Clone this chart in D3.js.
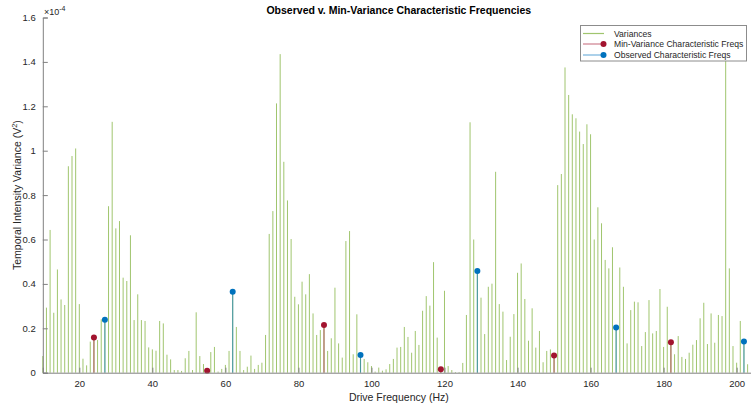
<!DOCTYPE html>
<html>
<head>
<meta charset="utf-8">
<script src="https://cdn.jsdelivr.net/npm/d3@7"></script>
<style>
  html, body { margin: 0; padding: 0; background: #fff; }
  svg { display: block; font-family: "Liberation Sans", Arial, sans-serif; }
</style>
</head>
<body>
<div id="chart"></div>
<script>
// Drive frequencies (Hz), one stem per integer frequency starting at 10 Hz
const freqStart = 10
// Temporal intensity variance, in units of 1e-4 V^2, for 10..203 Hz
const variances = [
  0.075, 0.293, 0.643, 0.27, 0.465, 0.33, 0.305, 0.93, 0.976, 1.01,
  0.309, 0.063, 0.033, 0.14, 0.159, 0.147, 0.24, 0.239, 0.75, 1.13,
  0.65, 0.683, 0.428, 0.413, 0.619, 0.237, 0.353, 0.237, 0.233, 0.114,
  0.105, 0.099, 0.233, 0.222, 0.081, 0.06, 0.012, 0.012, 0.008, 0.065,
  0.098, 0.012, 0.272, 0.075, 0.039, 0.009, 0.093, 0.116, 0.005, 0.017,
  0.035, 0.098, 0.365, 0.206, 0.098, 0.012, 0.027, 0.077, 0.017, 0.035,
  0.045, 0.17, 0.625, 0.728, 1.213, 1.435, 0.95, 0.776, 0.602, 0.342,
  0.308, 0.41, 0.353, 0.444, 0.267, 0.17, 0.192, 0.215, 0.098, 0.155,
  0.383, 0.132, 0.068, 0.593, 0.638, 0.083, 0.263, 0.08, 0.062, 0.047,
  0.03, 0.005, 0.023, 0.009, 0.015, 0.039, 0.062, 0.113, 0.116, 0.206,
  0.161, 0.09, 0.188, 0.125, 0.279, 0.345, 0.302, 0.498, 0.158, 0.015,
  0.369, 0.03, 0.012, 0.003, 0.003, 0.044, 0.26, 1.128, 0.60, 0.458,
  0.338, 0.174, 0.387, 0.401, 0.905, 0.309, 0.275, 0.057, 0.162, 0.264,
  0.45, 0.492, 0.332, 0.144, 0.29, 0.113, 0.188, 0.047, 0.098, 0.105,
  0.077, 0.845, 0.895, 1.375, 1.251, 1.164, 1.146, 1.086, 1.03, 1.119,
  1.074, 0.60, 0.745, 0.673, 0.508, 0.47, 0.565, 0.204, 0.474, 0.387,
  0.132, 0.282, 0.32, 0.317, 0.12, 0.183, 0.327, 0.177, 0.188, 0.377,
  0.116, 0.297, 0.137, 0.083, 0.165, 0.071, 0.062, 0.09, 0.126, 0.147,
  0.245, 0.315, 0.129, 0.267, 0.135, 0.26, 0.255, 1.45, 0.47, 0.12,
  0.045, 0.233, 0.14, 0.038
]

// Min-variance characteristic frequencies
const minVarFreqs = [24, 55, 87, 119, 150, 182]
const minVarValues = [0.159, 0.009, 0.215, 0.015, 0.077, 0.137]

// Observed characteristic frequencies
const obsFreqs = [27, 62, 97, 129, 167, 202]
const obsValues = [0.239, 0.365, 0.08, 0.458, 0.204, 0.14]

const xTicks = [20, 40, 60, 80, 100, 120, 140, 160, 180, 200]
const yTicks = [0, 0.2, 0.4, 0.6, 0.8, 1, 1.2, 1.4, 1.6]

const legendLabels = ['Variances', 'Min-Variance Characteristic Freqs', 'Observed Characteristic Freqs']

const width = 751
const height = 409
const greenColor = '#77AC30'
const redColor = '#A2142F'
const blueColor = '#0072BD'
const axisColor = '#808080'
const textColor = '#262626'

const x = d3.scaleLinear().domain([10, 205]).range([42.8, 754.9])
const y = d3.scaleLinear().domain([0, 1.6]).range([372.7, 17.5])

const svg = d3.select('#chart')
  .append('svg')
  .attr('width', width)
  .attr('height', height)

const varData = variances.map((v, i) => ({ f: freqStart + i, v }))
const minData = minVarFreqs.map((f, i) => ({ f, v: minVarValues[i] }))
const obsData = obsFreqs.map((f, i) => ({ f, v: obsValues[i] }))

// Variance stems
svg.append('g')
  .selectAll('line')
  .data(varData)
  .join('line')
  .attr('x1', d => x(d.f))
  .attr('x2', d => x(d.f))
  .attr('y1', y(0))
  .attr('y2', d => y(d.v))
  .attr('stroke', greenColor)
  .attr('stroke-opacity', 0.7)
  .attr('stroke-width', 1)

// Characteristic frequency stems + markers
function drawStems(data, color) {
  const g = svg.append('g')
  g.selectAll('line')
    .data(data)
    .join('line')
    .attr('x1', d => x(d.f))
    .attr('x2', d => x(d.f))
    .attr('y1', y(0))
    .attr('y2', d => y(d.v))
    .attr('stroke', color)
    .attr('stroke-opacity', 0.55)
    .attr('stroke-width', 1.2)
  g.selectAll('circle')
    .data(data)
    .join('circle')
    .attr('cx', d => x(d.f))
    .attr('cy', d => y(d.v))
    .attr('r', 3)
    .attr('fill', color)
}
drawStems(minData, redColor)
drawStems(obsData, blueColor)

// Axes (MATLAB style: ticks pointing inward, no box)
const xAxis = svg.append('g')
  .attr('transform', `translate(0,${y(0)})`)
  .call(d3.axisBottom(x).tickValues(xTicks).tickSize(-5).tickPadding(8))
const yAxis = svg.append('g')
  .attr('transform', `translate(${x(10)},0)`)
  .call(d3.axisLeft(y).tickValues(yTicks).tickSize(-5).tickPadding(7)
    .tickFormat(d => String(+d.toFixed(1))))

for (const ax of [xAxis, yAxis]) {
  ax.select('.domain').attr('stroke', axisColor).attr('stroke-width', 1)
  ax.selectAll('.tick line').attr('stroke', axisColor)
  ax.selectAll('.tick text')
    .attr('fill', textColor)
    .style('font-size', '9.5px')
    .style('font-family', '"Liberation Sans", Arial, sans-serif')
}

// Exponent label
const expo = svg.append('text')
  .attr('x', 44)
  .attr('y', 14.5)
  .attr('fill', textColor)
  .style('font-size', '9px')
expo.append('tspan').text('\u00d710')
expo.append('tspan').attr('dy', -4).style('font-size', '7px').text('-4')

// Title
svg.append('text')
  .attr('x', (42.8 + 754.9) / 2)
  .attr('y', 14)
  .attr('text-anchor', 'middle')
  .attr('fill', '#000')
  .style('font-size', '10.5px')
  .style('font-weight', 'bold')
  .text('Observed v. Min-Variance Characteristic Frequencies')

// X label
svg.append('text')
  .attr('x', (42.8 + 754.9) / 2)
  .attr('y', 401)
  .attr('text-anchor', 'middle')
  .attr('fill', textColor)
  .style('font-size', '10.5px')
  .text('Drive Frequency (Hz)')

// Y label
const yl = svg.append('text')
  .attr('transform', `translate(20.5,${(17.5 + 372.7) / 2}) rotate(-90)`)
  .attr('text-anchor', 'middle')
  .attr('fill', textColor)
  .style('font-size', '10.5px')
yl.append('tspan').text('Temporal Intensity Variance (V')
yl.append('tspan').attr('dy', -4).style('font-size', '7.5px').text('2')
yl.append('tspan').attr('dy', 4).text(')')

// Legend
const legend = svg.append('g').attr('transform', 'translate(580.5,25.5)')
legend.append('rect')
  .attr('width', 166)
  .attr('height', 35.5)
  .attr('fill', '#fff')
  .attr('stroke', '#8c8c8c')
  .attr('stroke-width', 1)

const legendColors = [greenColor, redColor, blueColor]
const legendRows = [8, 18.5, 29.5]
legendLabels.forEach((label, i) => {
  const row = legend.append('g').attr('transform', `translate(0,${legendRows[i]})`)
  row.append('line')
    .attr('x1', 2.5)
    .attr('x2', 23.5)
    .attr('stroke', legendColors[i])
    .attr('stroke-opacity', i === 0 ? 0.7 : 0.55)
    .attr('stroke-width', 1.2)
  if (i > 0) {
    row.append('circle')
      .attr('cx', 23)
      .attr('r', 3)
      .attr('fill', legendColors[i])
  }
  row.append('text')
    .attr('x', 33.5)
    .attr('y', 3.2)
    .attr('fill', textColor)
    .style('font-size', '8.6px')
    .text(label)
})
</script>
</body>
</html>
